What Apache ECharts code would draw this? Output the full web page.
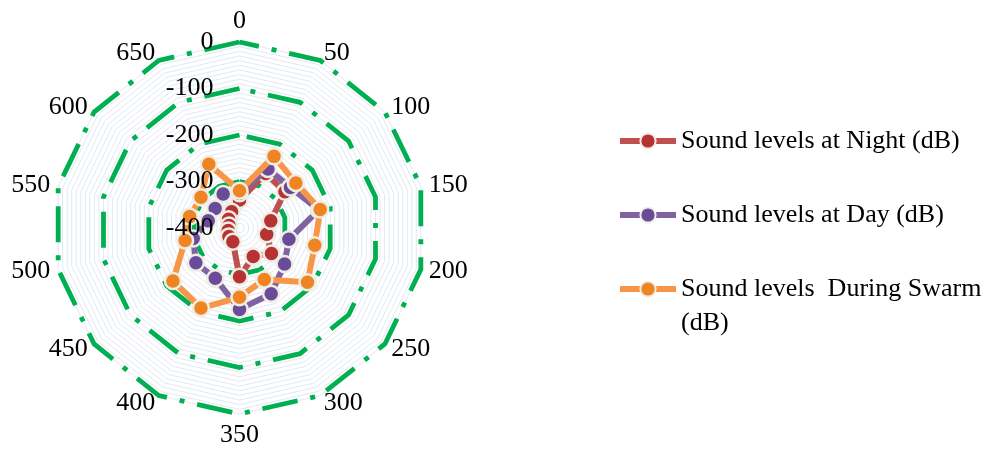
<!DOCTYPE html>
<html>
<head>
<meta charset="utf-8">
<script src="https://cdn.jsdelivr.net/npm/echarts@6/dist/echarts.min.js"></script>
<style>
  html, body { margin: 0; padding: 0; background: #ffffff; }
  #chart { width: 995px; height: 449px; }
</style>
</head>
<body>
<div id="chart"></div>
<script>
// Spokes of the radar, clockwise from the top
const categories = ['0', '50', '100', '150', '200', '250', '300', '350', '400', '450', '500', '550', '600', '650'];

// Sound levels (dB) on each spoke
const nightLevels = [-340, -270, -275, -331, -340, -312, -332, -295, -367, -371, -375, -377, -370, -361];
const dayLevels   = [-325, -259, -260, -225, -291, -276, -243, -225, -280, -280, -298, -331, -333, -319];
const swarmLevels = [-320, -229, -245, -222, -234, -213, -277, -251, -209, -217, -280, -290, -294, -248];

const seriesNames = ['Sound levels at Night (dB)', 'Sound levels at Day (dB)', 'Sound levels  During Swarm (dB)'];
const radialTicks = [-400, -300, -200, -100, 0];

const axisMin = radialTicks[0];
const axisMax = radialTicks[radialTicks.length - 1];

const FONT = "'Liberation Serif', 'Times New Roman', serif";
const FONT_SIZE = 26;
const lineColors = ['#c0504d', '#8064a2', '#f79646'];
const markerColors = ['#b73232', '#6a4b99', '#ef8522'];
const levels = [nightLevels, dayLevels, swarmLevels];

// ECharts lays indicators out counter-clockwise, so walk the spokes in reverse after the first
const order = categories.map((_, i) => (i === 0 ? 0 : categories.length - i));
const toRadarOrder = arr => order.map(i => arr[i]);

const center = [239.5, 228];
const radius = 186;

const plainIndicators = () => order.map(i => ({ name: categories[i], min: axisMin, max: axisMax }));

// radar frame shared by the three stacked radar components
const radarBase = extra => Object.assign({
  center: center,
  radius: radius,
  shape: 'polygon',
  axisName: { show: false },
  axisLine: { show: false },
  axisTick: { show: false },
  axisLabel: { show: false },
  splitArea: { show: false },
  splitLine: { show: false }
}, extra);

const seriesStyle = idx => ({
  symbol: 'circle',
  symbolSize: 16,
  itemStyle: { color: markerColors[idx], borderColor: '#efede3', borderWidth: 2.5 },
  lineStyle: { color: lineColors[idx], width: 6 }
});

const legendBase = extra => Object.assign({
  orient: 'vertical',
  left: 612,
  itemWidth: 56,
  itemHeight: 19,
  lineStyle: { width: 'inherit' },
  textStyle: { fontFamily: FONT, fontSize: FONT_SIZE, color: '#000', lineHeight: 34 }
}, extra);

const option = {
  backgroundColor: '#ffffff',
  animation: false,
  grid: { show: false, left: 0, top: 0, width: 10, height: 10 },
  xAxis: { type: 'category', show: false, data: [] },
  yAxis: { type: 'value', show: false },
  legend: [
    legendBase({ top: 119, itemGap: 40, data: [seriesNames[0], seriesNames[1]] }),
    // long name wraps; the leading empty line keeps the key level with its first line
    legendBase({
      top: 233,
      formatter: name => '\n' + name.replace(/ \(dB\)$/, '\n(dB)'),
      data: [seriesNames[2]]
    })
  ],
  radar: [
    // fine background rings
    radarBase({
      z: 0,
      splitNumber: 40,
      indicator: plainIndicators(),
      splitLine: { show: true, lineStyle: { color: '#e1e9f3', width: 1 } }
    }),
    // major dash-dot rings and spoke names
    radarBase({
      z: 1,
      splitNumber: radialTicks.length - 1,
      indicator: plainIndicators(),
      nameGap: 8,
      axisName: { show: true, color: '#000', fontFamily: FONT, fontSize: FONT_SIZE },
      splitLine: { show: true, lineStyle: { color: '#00b050', width: 4.8, type: [36, 13, 5, 13] } }
    }),
    // radial value labels, drawn above the data
    radarBase({
      z: 6,
      splitNumber: radialTicks.length - 1,
      indicator: order.map((i, k) => {
        const ind = { name: categories[i], min: axisMin, max: axisMax };
        if (k === 0) ind.axisLabel = { show: true };
        return ind;
      }),
      axisLabel: { show: false, color: '#000', fontFamily: FONT, fontSize: FONT_SIZE, margin: 26, padding: [6, 0, 0, 0] }
    })
  ],
  series: [
    // empty line series supply the line-and-marker legend keys
    ...seriesNames.map((name, idx) => Object.assign({ type: 'line', name: name, data: [] }, seriesStyle(idx))),
    ...seriesNames.map((name, idx) => Object.assign({
      type: 'radar',
      name: name,
      radarIndex: 1,
      z: 2 + idx * 0.1,
      data: [{ name: name, value: toRadarOrder(levels[idx]) }]
    }, seriesStyle(idx)))
  ]
};

const chart = echarts.init(document.getElementById('chart'), null, { renderer: 'canvas' });
chart.setOption(option);
</script>
</body>
</html>
